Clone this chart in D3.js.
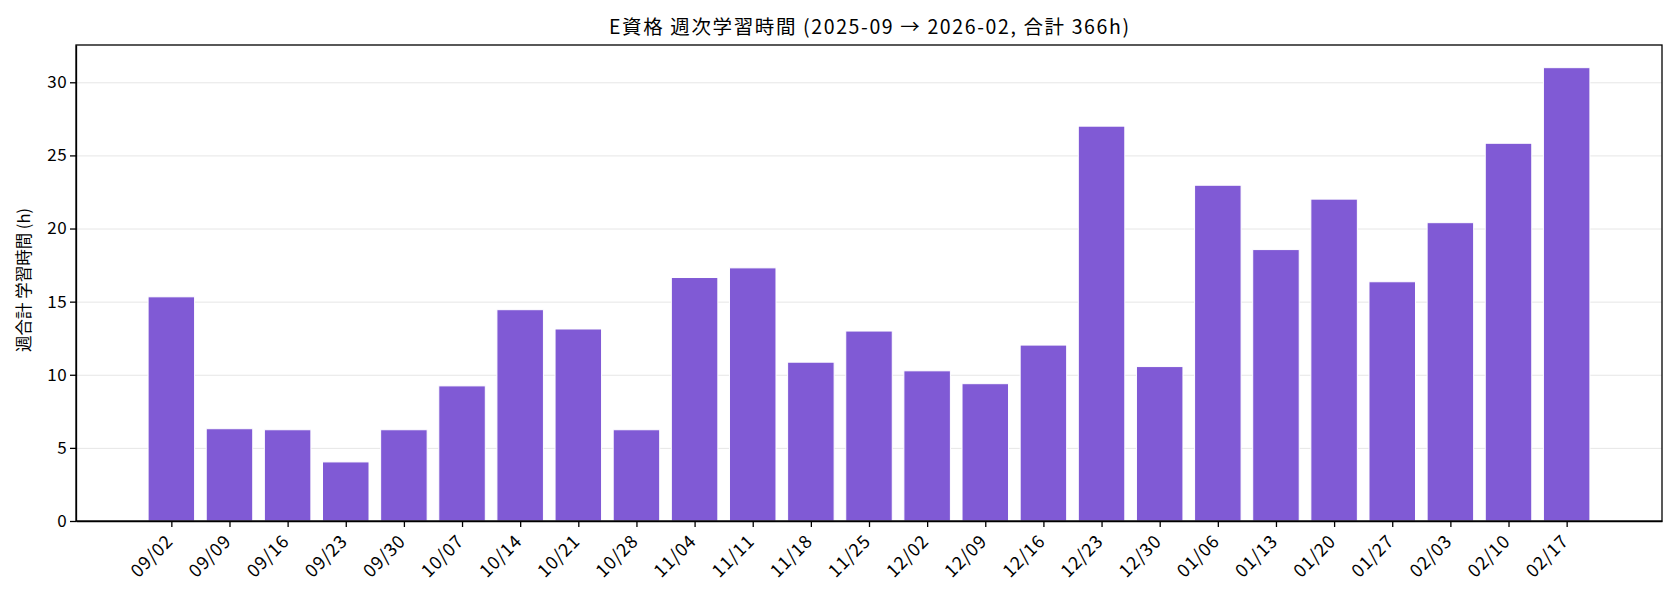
<!DOCTYPE html>
<html>
<head>
<meta charset="utf-8">
<script src="https://cdn.jsdelivr.net/npm/d3@7"></script>
<style>
  body { margin: 0; background: #fff; }
  text { font-family: "Noto Sans CJK JP", "Noto Sans", sans-serif; fill: #000; }
  .grid line { stroke: #e6e6e6; stroke-width: 1; }
  .grid .domain { display: none; }
  .axis text { font-size: 17px; letter-spacing: 0.4px; }
  .x.axis text { font-size: 18px; letter-spacing: 0.8px; }
  .axis line, .axis path { stroke: #000; stroke-width: 1.3; }
</style>
</head>
<body>
<script>
/*
 * Weekly study hours bar chart.
 * */

// data
var weeks = ["09/02", "09/09", "09/16", "09/23", "09/30", "10/07", "10/14", "10/21",
             "10/28", "11/04", "11/11", "11/18", "11/25", "12/02", "12/09", "12/16",
             "12/23", "12/30", "01/06", "01/13", "01/20", "01/27", "02/03", "02/10", "02/17"];
var hours = [15.33, 6.31, 6.24, 4.04, 6.24, 9.24, 14.45, 13.13,
             6.24, 16.65, 17.31, 10.86, 12.99, 10.27, 9.39, 12.03,
             27.0, 10.56, 22.96, 18.56, 22.01, 16.36, 20.40, 25.83, 31.0];
var yTicks = [0, 5, 10, 15, 20, 25, 30];
var title = "E資格 週次学習時間 (2025-09 → 2026-02, 合計 366h)";
var yLabel = "週合計 学習時間 (h)";

// set the dimensions and margins of the graph
var margin = {top: 45, right: 18, bottom: 79, left: 76},
    width = 1680 - margin.left - margin.right,
    height = 600 - margin.top - margin.bottom;

var svg = d3.select("body").append("svg")
    .attr("width", 1680)
    .attr("height", 600);

var g = svg.append("g")
    .attr("transform", "translate(" + margin.left + "," + margin.top + ")");

// bar i sits at i, width 0.8, matplotlib-like 5% margins
var n = weeks.length;
var pad = 0.4 + (n - 1 + 0.8) * 0.05;
var x = d3.scaleLinear().domain([-pad, n - 1 + pad]).range([0, width]);
var y = d3.scaleLinear().domain([0, d3.max(hours) * 1.05]).range([height, 0]);

// grid
g.append("g")
    .attr("class", "grid")
    .call(d3.axisLeft(y).tickValues(yTicks).tickSize(-width).tickFormat(""));

// bars
g.selectAll(".bar")
    .data(hours)
  .enter().append("rect")
    .attr("class", "bar")
    .attr("x", function(d, i) { return x(i - 0.4); })
    .attr("width", x(0.8) - x(0))
    .attr("y", function(d) { return y(d); })
    .attr("height", function(d) { return height - y(d); })
    .attr("fill", "#805ad5")
    .attr("stroke", "#fff")
    .attr("stroke-width", 1);

// frame
g.append("rect")
    .attr("width", width)
    .attr("height", height)
    .attr("fill", "none")
    .attr("stroke", "#000")
    .attr("stroke-width", 1.3);

// x axis
var xAxis = g.append("g")
    .attr("class", "x axis")
    .attr("transform", "translate(0," + height + ")")
    .call(d3.axisBottom(x)
      .tickValues(d3.range(n))
      .tickFormat(function(i) { return weeks[i]; })
      .tickSize(6).tickSizeOuter(0));
xAxis.selectAll("text")
    .attr("text-anchor", "end")
    .attr("dy", 0)
    .attr("transform", "translate(-4,15) rotate(-45)");

// y axis
g.append("g")
    .attr("class", "axis")
    .call(d3.axisLeft(y).tickValues(yTicks).tickSize(6).tickSizeOuter(0))
  .selectAll("text")
    .attr("x", -9);

// y label
svg.append("text")
    .attr("transform", "rotate(-90)")
    .attr("x", -(margin.top + height / 2) + 3)
    .attr("y", 30)
    .style("text-anchor", "middle")
    .style("font-size", "16.5px")
    .text(yLabel);

// title
svg.append("text")
    .attr("x", margin.left + width / 2)
    .attr("y", 34)
    .attr("textLength", 520)
    .attr("lengthAdjust", "spacing")
    .style("text-anchor", "middle")
    .style("font-size", "19.5px")
    .text(title);
</script>
</body>
</html>
